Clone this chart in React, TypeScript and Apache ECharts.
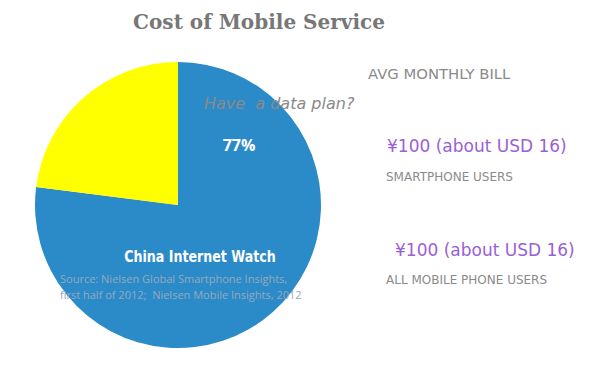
import React, { useEffect, useRef } from "react";
import * as echarts from "echarts";

const sliceNames = ["Yes", "No"];
const sliceValues = [77, 23];
const sliceColors = ["#2B8BC9", "#FFFF00"];
const titleText = "Cost of Mobile Service";
const questionText = "Have  a data plan?";
const billHeader = "AVG MONTHLY BILL";
const billValues = ["¥100 (about USD 16)", "¥100 (about USD 16)"];
const billGroups = ["SMARTPHONE USERS", "ALL MOBILE PHONE USERS"];
const brandText = "China Internet Watch";
const sourceLines = [
  "Source: Nielsen Global Smartphone Insights,",
  "first half of 2012;  Nielsen Mobile Insights, 2012",
];

export default function App() {
  const ref = useRef<HTMLDivElement>(null);
  useEffect(() => {
    if (!ref.current) return;
    const chart = echarts.init(ref.current, null, { renderer: "svg" });
    const gothic = "'DejaVu Sans', sans-serif";
    const open = "'Open Sans', sans-serif";
    const t = (x: number, y: number, text: string, fill: string, font: string, align = "left", scaleX = 1) => ({
      type: "text",
      x,
      y,
      z: 100,
      scaleX,
      silent: true,
      style: { text, fill, font, textAlign: align, textVerticalAlign: "middle" },
    });
    chart.setOption({
      animation: false,
      backgroundColor: "#ffffff",
      series: [
        {
          type: "pie",
          center: [178, 205],
          radius: 143,
          startAngle: 90,
          clockwise: true,
          silent: true,
          z: 1,
          label: { show: false },
          labelLine: { show: false },
          itemStyle: { borderWidth: 0 },
          data: sliceNames.map((n, i) => ({
            name: n,
            value: sliceValues[i],
            itemStyle: { color: sliceColors[i] },
          })),
        },
      ],
      graphic: [
        t(259, 22, titleText, "#777777", "bold 20px 'DejaVu Serif', serif", "center"),
        t(204, 103, questionText, "#8a8a8a", `italic 16px ${gothic}`),
        t(239, 145, sliceValues[0] + "%", "#ffffff", `bold 16px ${open}`, "center"),
        t(368, 74, billHeader, "#8a8a8a", `14px ${gothic}`, "left", 1.06),
        t(387, 146, billValues[0], "#9B5FD4", `17px ${gothic}`),
        t(386, 177, billGroups[0], "#8a8a8a", `12px ${gothic}`),
        t(395, 250, billValues[1], "#9B5FD4", `17px ${gothic}`),
        t(386, 280, billGroups[1], "#8a8a8a", `12px ${gothic}`),
        t(200, 256, brandText, "#ffffff", "bold 16px 'DejaVu Sans', sans-serif", "center", 0.79),
        t(60, 278, sourceLines[0], "#97A8BA", `11px ${open}`),
        t(60, 294, sourceLines[1], "#97A8BA", `11px ${open}`),
      ],
    });
    return () => chart.dispose();
  }, []);
  return (
    <div
      ref={ref}
      style={{ position: "fixed", left: 0, top: 0, width: 600, height: 371 }}
    />
  );
}
